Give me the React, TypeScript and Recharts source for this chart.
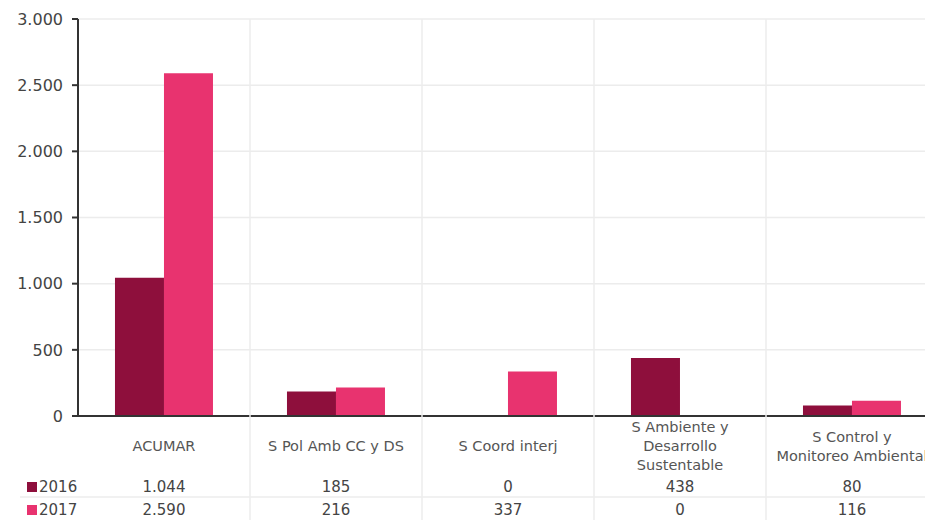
import { BarChart, Bar, XAxis, YAxis, CartesianGrid } from 'recharts';

const categories = [
  'ACUMAR',
  'S Pol Amb CC y DS',
  'S Coord interj',
  'S Ambiente y\nDesarrollo\nSustentable',
  'S Control y\nMonitoreo Ambiental',
];
const series2016 = [1044, 185, 0, 438, 80];
const series2017 = [2590, 216, 337, 0, 116];
const yTicks = [0, 500, 1000, 1500, 2000, 2500, 3000];
const seriesNames = ['2016', '2017'];

const COLOR_2016 = '#8e0f3c';
const COLOR_2017 = '#e8336f';
const FONT = '"DejaVu Sans", sans-serif';

const CHART_W = 945;
const CHART_H = 520;
const Y_W = 78;
const MARGIN = { top: 19, right: 7, left: 0, bottom: 0 };
const X_H = CHART_H - 416;
const BAND = (CHART_W - Y_W - MARGIN.right) / categories.length;

const fmt = (v: number) => v.toLocaleString('de-DE');

const data = categories.map((name, i) => ({
  name,
  y2016: series2016[i],
  y2017: series2017[i],
}));

function TableTick(props: any) {
  const { x, y, payload } = props;
  const i = payload.index;
  const lines = String(payload.value).split('\n');
  const lh = 19;
  const start = y + 30 - ((lines.length - 1) * lh) / 2;
  return (
    <g>
      <line x1={x + BAND / 2} x2={x + BAND / 2} y1={MARGIN.top} y2={CHART_H} stroke="#ececec" strokeWidth={1.5} />
      {i === 0 && (
        <g>
          <line x1={20} x2={CHART_W} y1={y + 81} y2={y + 81} stroke="#ececec" strokeWidth={1.5} />
          {seriesNames.map((s, k) => (
            <g key={s}>
              <rect x={27} y={y + 66 + k * 23} width={10} height={10} fill={k === 0 ? COLOR_2016 : COLOR_2017} />
              <text x={39} y={y + 71 + k * 23} dominantBaseline="central" fontSize={15} fill="#444" fontFamily={FONT}>
                {s}
              </text>
            </g>
          ))}
        </g>
      )}
      {lines.map((l, k) => (
        <text key={k} x={x} y={start + k * lh} textAnchor="middle" dominantBaseline="central" fontSize={14.5} fill="#555" fontFamily={FONT}>
          {l}
        </text>
      ))}
      <text x={x} y={y + 71} textAnchor="middle" dominantBaseline="central" fontSize={15} fill="#444" fontFamily={FONT}>
        {fmt(series2016[i])}
      </text>
      <text x={x} y={y + 94} textAnchor="middle" dominantBaseline="central" fontSize={15} fill="#444" fontFamily={FONT}>
        {fmt(series2017[i])}
      </text>
    </g>
  );
}

export default function App() {
  return (
    <div style={{ position: 'absolute', left: 0, top: 0, width: 925, height: 520, overflow: 'hidden', background: '#fff' }}>
      <BarChart width={CHART_W} height={CHART_H} data={data} margin={MARGIN} barCategoryGap="21.5%" barGap={0}>
        <CartesianGrid vertical={false} stroke="#ececec" strokeWidth={1.5} />
        <XAxis
          dataKey="name"
          interval={0}
          height={X_H}
          tickLine={false}
          tickSize={0}
          tickMargin={0}
          stroke="#333"
          strokeWidth={2}
          tick={<TableTick />}
        />
        <YAxis
          width={Y_W}
          domain={[0, 3000]}
          ticks={yTicks}
          tickFormatter={fmt}
          stroke="#333"
          strokeWidth={2}
          tickSize={6}
          tickMargin={9}
          tick={{ fill: '#444', fontSize: 16, fontFamily: FONT }}
        />
        <Bar dataKey="y2016" name="2016" fill={COLOR_2016} isAnimationActive={false} />
        <Bar dataKey="y2017" name="2017" fill={COLOR_2017} isAnimationActive={false} />
      </BarChart>
    </div>
  );
}
